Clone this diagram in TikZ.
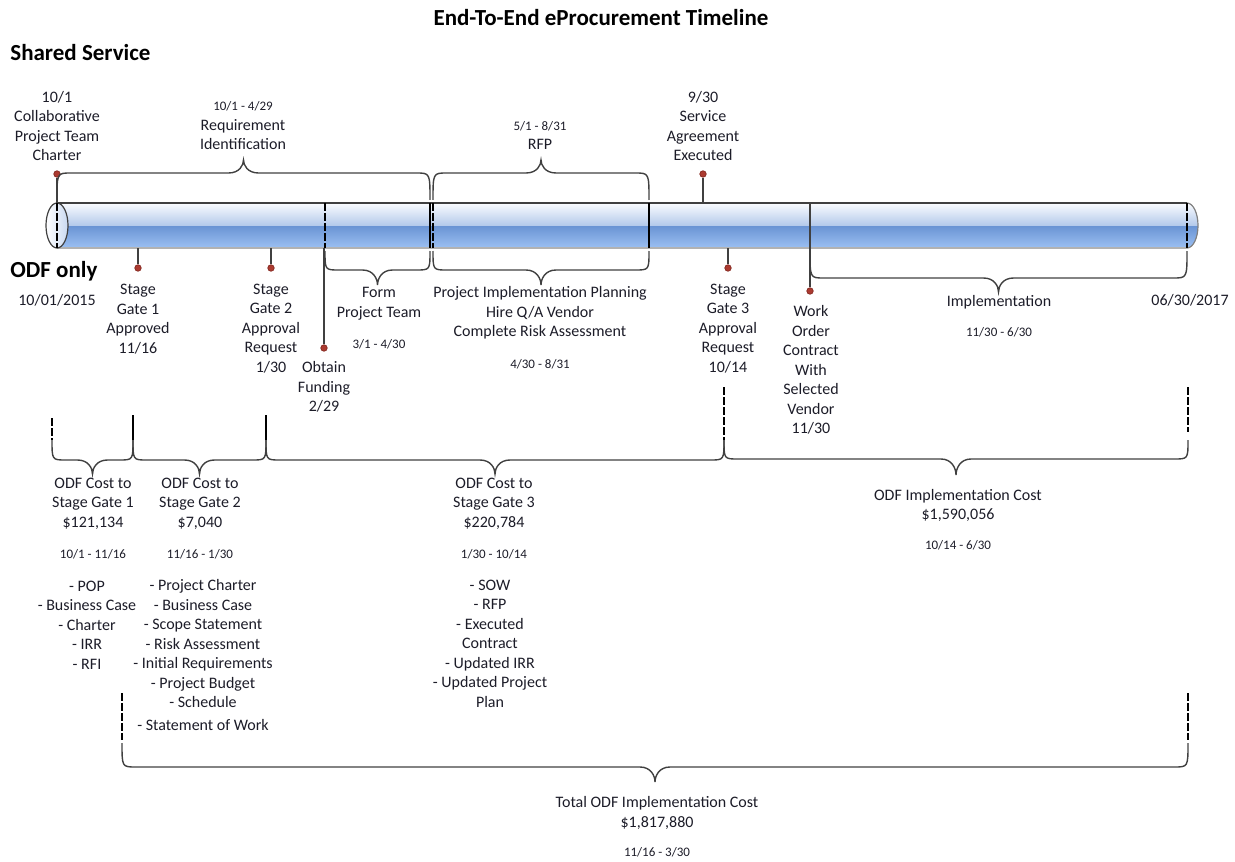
\documentclass[tikz,border=0pt]{standalone}
\usepackage{fontspec}
\setmainfont{Carlito}
\usetikzlibrary{positioning, calc}
\definecolor{dotred}{RGB}{172, 58, 48}
\definecolor{inkgray}{RGB}{64, 64, 64}
\definecolor{txtdark}{RGB}{28, 28, 40}
\definecolor{barwhite}{RGB}{250, 252, 255}
\definecolor{barpale}{RGB}{178, 200, 234}
\definecolor{barmid}{RGB}{106, 148, 212}
\definecolor{barlow}{RGB}{156, 192, 242}

\begin{document}
\begin{tikzpicture}[
    x=0.5pt, y=-0.5pt,
    % Node Styles
    lbl/.style={align=center, inner sep=0pt, text=txtdark, font=\fontsize{8}{9.75}\selectfont},
    datel/.style={align=center, inner sep=0pt, text=txtdark, font=\fontsize{6.5}{8}\selectfont},
    head/.style={anchor=west, inner sep=0pt, text=black, font=\fontsize{11.5}{14}\selectfont\bfseries},
    dot/.style={circle, fill=dotred, draw=dotred!80!black, inner sep=0pt, minimum size=3.2pt},
    % Edge Styles
    stem/.style={draw=inkgray, line width=0.6pt},
    bracel/.style={draw=inkgray, line width=0.7pt},
    solidtick/.style={draw=black, line width=0.6pt},
    dashtick/.style={draw=black, line width=0.65pt, dash pattern=on 4pt off 1pt}
]
\useasboundingbox (0,0) rectangle (1235,861);

% Headings
\node[font=\fontsize{11.5}{14}\selectfont\bfseries, inner sep=0pt] (title) at (601,18) {End-To-End eProcurement Timeline};
\node[head] (shared) at (10,53) {Shared Service};
\node[head] (odf) at (10,271) {ODF only};
\node[lbl] (start) at (57,300) {10/01/2015};
\node[lbl] (finish) at (1190,300) {06/30/2017};

% Timeline bar
\begin{scope}
    \clip (57,203) -- (1187,203) arc[start angle=-90, end angle=90, x radius=11, y radius=22.5] -- (57,248) -- cycle;
    \shade[top color=barwhite, bottom color=barpale] (46,203) rectangle (1200,226);
    \shade[top color=barmid, bottom color=barlow] (46,226) rectangle (1200,248);
\end{scope}
\draw[inkgray, line width=0.6pt] (57,203) -- (1187,203);
\draw[gray!60, line width=1.1pt] (57,248) -- (1187,248);
\draw[gray, line width=0.6pt] (1187,203) arc[start angle=-90, end angle=90, x radius=11, y radius=22.5];
\shade[left color=white, right color=barpale!70] (57,225.5) ellipse[x radius=11, y radius=22.5];
\draw[inkgray, line width=0.6pt] (57,225.5) ellipse[x radius=11, y radius=22.5];

% Dividers in the bar
\foreach \xd in {57, 325, 1187} {
    \draw[dashtick] (\xd,203) -- (\xd,248);
}
\foreach \xd in {430, 649} {
    \draw[solidtick] (\xd,203) -- (\xd,248);
}
\draw[dashtick, line width=1pt] (433,203) -- (433,248);

% Helper macro for markers
% #1: name, #2: x, #3: y on the bar, #4: y of the dot
\newcommand{\addMarker}[4]{
    \coordinate (bar-#1) at (#2,#3);
    \node[dot] (dot-#1) at (#2,#4) {};
    \draw[stem] (bar-#1) -- (dot-#1);
}

% Helper macro for braces
% #1: name, #2: left x, #3: right x, #4: end y, #5: line y, #6: tip y
\newcommand{\addBrace}[6]{
    \pgfmathsetmacro{\bm}{(#2+#3)/2}
    \pgfmathsetmacro{\bk}{#6+0.4*(#5-#6)}
    \pgfmathsetmacro{\bl}{#2+14}
    \pgfmathsetmacro{\br}{#3-14}
    \coordinate (br-#1) at (\bm,#6);
    \draw[bracel] (#2,#4) .. controls (#2,#5) .. (\bl,#5) -- (\bm-15,#5)
        .. controls (\bm-4,#5) and (\bm,\bk) .. (br-#1)
        .. controls (\bm,\bk) and (\bm+4,#5) .. (\bm+15,#5) -- (\br,#5)
        .. controls (#3,#5) .. (#3,#4);
}

% Shared service markers
\addMarker{charter}{57}{203}{174}
\addMarker{agree}{703}{203}{174}
\node[lbl] (charter) at (57,126) {10/1\\Collaborative\\Project Team\\Charter};
\node[lbl] (agree) at (703,126) {9/30\\Service\\Agreement\\Executed};

% ODF markers
\addMarker{sg1}{138}{248}{268}
\addMarker{sg2}{271}{248}{268}
\addMarker{fund}{324}{248}{348}
\addMarker{sg3}{728}{248}{268}
\addMarker{wo}{810}{203}{291}
\node[lbl] (sg1) at (138,319) {Stage\\Gate 1\\Approved\\11/16};
\node[lbl] (sg2) at (271,328.5) {Stage\\Gate 2\\Approval\\Request\\1/30};
\node[lbl] (fund) at (324,387) {Obtain\\Funding\\2/29};
\node[lbl] (sg3) at (728,328.5) {Stage\\Gate 3\\Approval\\Request\\10/14};
\node[lbl] (wo) at (811,370) {Work\\Order\\Contract\\With\\Selected\\Vendor\\11/30};

% Braces on the bar
\addBrace{req}{57}{430}{200}{173}{160}
\addBrace{rfp}{433}{649}{200}{173}{160}
\addBrace{form}{325}{430}{251}{270}{285}
\addBrace{pip}{433}{649}{251}{270}{285}
\addBrace{impl}{810}{1187}{251}{278}{292}

\node[datel] (req-d) at (243,106) {10/1 - 4/29};
\node[lbl] (req) at (243,134.5) {Requirement\\Identification};
\node[datel] (rfp-d) at (540,126) {5/1 - 8/31};
\node[lbl] (rfp) at (540,144) {RFP};
\node[lbl] (form) at (379,303.5) {Form\\Project Team};
\node[datel] (form-d) at (379,344) {3/1 - 4/30};
\node[lbl] (pip) at (540,313) {Project Implementation Planning\\Hire Q/A Vendor\\Complete Risk Assessment};
\node[datel] (pip-d) at (540,364) {4/30 - 8/31};
\node[lbl] (impl) at (999,302) {Implementation};
\node[datel] (impl-d) at (999,332) {11/30 - 6/30};

% Cost ticks
\draw[dashtick] (52,418) -- (52,440);
\foreach \xt in {133, 266} {
    \draw[solidtick] (\xt,415) -- (\xt,440);
}
\draw[dashtick] (724,387) -- (724,440);
\draw[dashtick] (1188,387) -- (1188,432);
\draw[dashtick] (122,693) -- (122,740);
\draw[dashtick] (1188,693) -- (1188,740);

% Cost braces
\addBrace{c1}{52}{133}{440}{460}{474}
\addBrace{c2}{133}{266}{440}{460}{474}
\addBrace{c3}{266}{724}{440}{460}{474}
\addBrace{c4}{724}{1188}{440}{459}{475}
\addBrace{tot}{122}{1188}{743}{767}{782}

\node[lbl] (c1) at (93,503.5) {ODF Cost to\\Stage Gate 1\\\$121,134};
\node[datel] (c1-d) at (93,554) {10/1 - 11/16};
\node[lbl] (c2) at (200,503.5) {ODF Cost to\\Stage Gate 2\\\$7,040};
\node[datel] (c2-d) at (200,554) {11/16 - 1/30};
\node[lbl] (c3) at (494,503.5) {ODF Cost to\\Stage Gate 3\\\$220,784};
\node[datel] (c3-d) at (494,554) {1/30 - 10/14};
\node[lbl] (c4) at (958,505.5) {ODF Implementation Cost\\\$1,590,056};
\node[datel] (c4-d) at (958,545) {10/14 - 6/30};

% Deliverables
\node[lbl] (list1) at (87,625) {- POP\\- Business Case\\- Charter\\- IRR\\- RFI};
\node[lbl] (list2) at (203,643.5) {- Project Charter\\- Business Case\\- Scope Statement\\- Risk Assessment\\- Initial Requirements\\- Project Budget\\- Schedule};
\node[lbl] (sow) at (203,725) {- Statement of Work};
\node[lbl] (list3) at (490,643.5) {- SOW\\- RFP\\- Executed\\Contract\\- Updated IRR\\- Updated Project\\Plan};

% Total
\node[lbl] (tot) at (657,813) {Total ODF Implementation Cost\\\$1,817,880};
\node[datel] (tot-d) at (657,852) {11/16 - 3/30};

\end{tikzpicture}
\end{document}
